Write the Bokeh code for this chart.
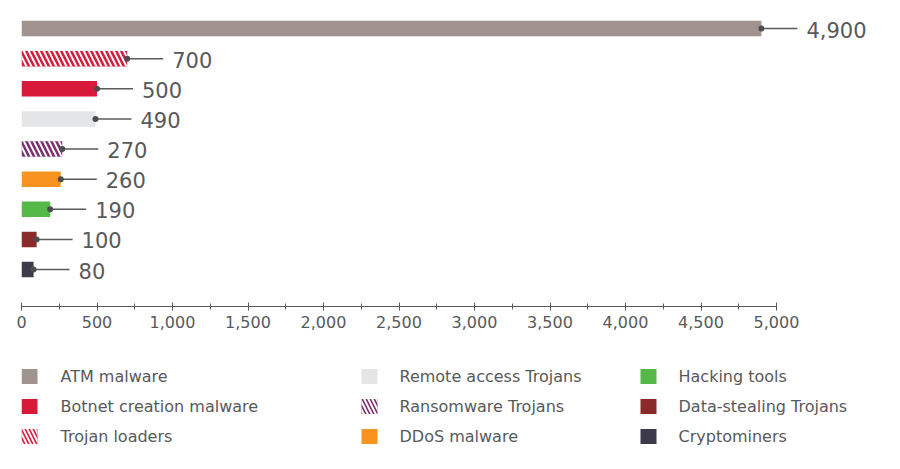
from bokeh.plotting import figure
from bokeh.models import Range1d, NumeralTickFormatter, FixedTicker, ColumnDataSource
from bokeh.layouts import column
from bokeh.embed import file_html
from bokeh.resources import INLINE
from bokeh.core.properties import value

# ---- data ----
categories = ["ATM malware", "Trojan loaders", "Botnet creation malware",
              "Remote access Trojans", "Ransomware Trojans", "DDoS malware",
              "Hacking tools", "Data-stealing Trojans", "Cryptominers"]
values = [4900, 700, 500, 490, 270, 260, 190, 100, 80]
colors = ["#a09390", "#d7193a", "#d7193a", "#e4e5e7", "#7b2d6e", "#f7931e",
          "#56b848", "#8b2a2a", "#3d3a4b"]
hatches = ["", "\\", "", "", "\\", "", "", "", ""]
value_labels = ["4,900", "700", "500", "490", "270", "260", "190", "100", "80"]
x_ticks = [0, 500, 1000, 1500, 2000, 2500, 3000, 3500, 4000, 4500, 5000]

# legend order (column-wise as in the reference)
legend_order = ["ATM malware", "Botnet creation malware", "Trojan loaders",
                "Remote access Trojans", "Ransomware Trojans", "DDoS malware",
                "Hacking tools", "Data-stealing Trojans", "Cryptominers"]

FONT = "DejaVu Sans"
TXT = "#58595b"

W = 884
H_MAIN = 340
H_LEG = 113
LEFT = 21
RIGHT = 2
TOP = 10
FRAME_H = 296
FRAME_W = W - LEFT - RIGHT

ys = list(range(len(values)))
src = ColumnDataSource(dict(y=ys, v=values, c=colors, h=hatches, lab=value_labels))

p = figure(width=W, height=H_MAIN, output_backend="svg", toolbar_location=None,
           x_range=Range1d(0, FRAME_W / 0.151), y_range=Range1d(9.228, -0.598),
           min_border_left=LEFT, min_border_right=RIGHT, min_border_top=TOP,
           min_border_bottom=H_MAIN - TOP - FRAME_H)
p.outline_line_color = None
p.grid.visible = False
p.yaxis.visible = False

p.hbar(y="y", left=0, right="v", height=0.515, fill_color="c", line_color=None,
       hatch_pattern="h", hatch_color="white", hatch_weight=2, hatch_scale=10,
       source=src)

p.ray(x="v", y="y", length=36, length_units="screen", angle=0,
      line_color="#5a5a5c", line_width=1.5, source=src)
p.scatter(x="v", y="y", size=6, fill_color="#4d4d4f", line_color=None, source=src)
p.text(x="v", y="y", text="lab", x_offset=45, y_offset=1, text_baseline="middle",
       text_align="left", text_font=value(FONT), text_font_size="21px",
       text_color=TXT, source=src)

ax = p.xaxis[0]
ax.ticker = FixedTicker(ticks=x_ticks, minor_ticks=[t + 250 for t in x_ticks[:-1]])
ax.formatter = NumeralTickFormatter(format="0,0")
ax.bounds = (0, 5000)
ax.axis_line_color = "#58595b"
ax.axis_line_width = 1.2
ax.major_tick_line_color = "#58595b"
ax.minor_tick_line_color = "#58595b"
ax.major_tick_in = 4
ax.major_tick_out = 4
ax.minor_tick_in = 3
ax.minor_tick_out = 3
ax.major_label_text_font = FONT
ax.major_label_text_font_size = "16px"
ax.major_label_text_color = TXT
ax.major_label_standoff = 5

# ---- legend as its own small figure (frame aligned with the main frame) ----
leg = figure(width=W, height=H_LEG, output_backend="svg", toolbar_location=None,
             x_range=Range1d(LEFT, LEFT + FRAME_W), y_range=Range1d(H_LEG, 0),
             min_border_left=LEFT, min_border_right=RIGHT, min_border_top=0,
             min_border_bottom=0)
leg.outline_line_color = None
leg.grid.visible = False
leg.axis.visible = False

col_sq = [29, 369, 648]
col_tx = [60, 399, 678]
row_y = [36, 66, 96]
lx, ly, ltx, lc, lh = [], [], [], [], []
for i, name in enumerate(legend_order):
    k = categories.index(name)
    lx.append(col_sq[i // 3])
    ly.append(row_y[i % 3])
    ltx.append(col_tx[i // 3])
    lc.append(colors[k])
    lh.append(hatches[k])
lsrc = ColumnDataSource(dict(x=lx, y=ly, tx=ltx, c=lc, h=lh, name=legend_order))
leg.rect(x="x", y="y", width=16, height=15, fill_color="c", line_color=None,
         hatch_pattern="h", hatch_color="white", hatch_weight=2, hatch_scale=8,
         source=lsrc)
leg.text(x="tx", y="y", text="name", text_baseline="middle", text_align="left",
         text_font=value(FONT), text_font_size="16px", text_color=TXT,
         source=lsrc)

layout = column(p, leg, spacing=0)
open("out.html", "w").write(file_html(layout, INLINE))
